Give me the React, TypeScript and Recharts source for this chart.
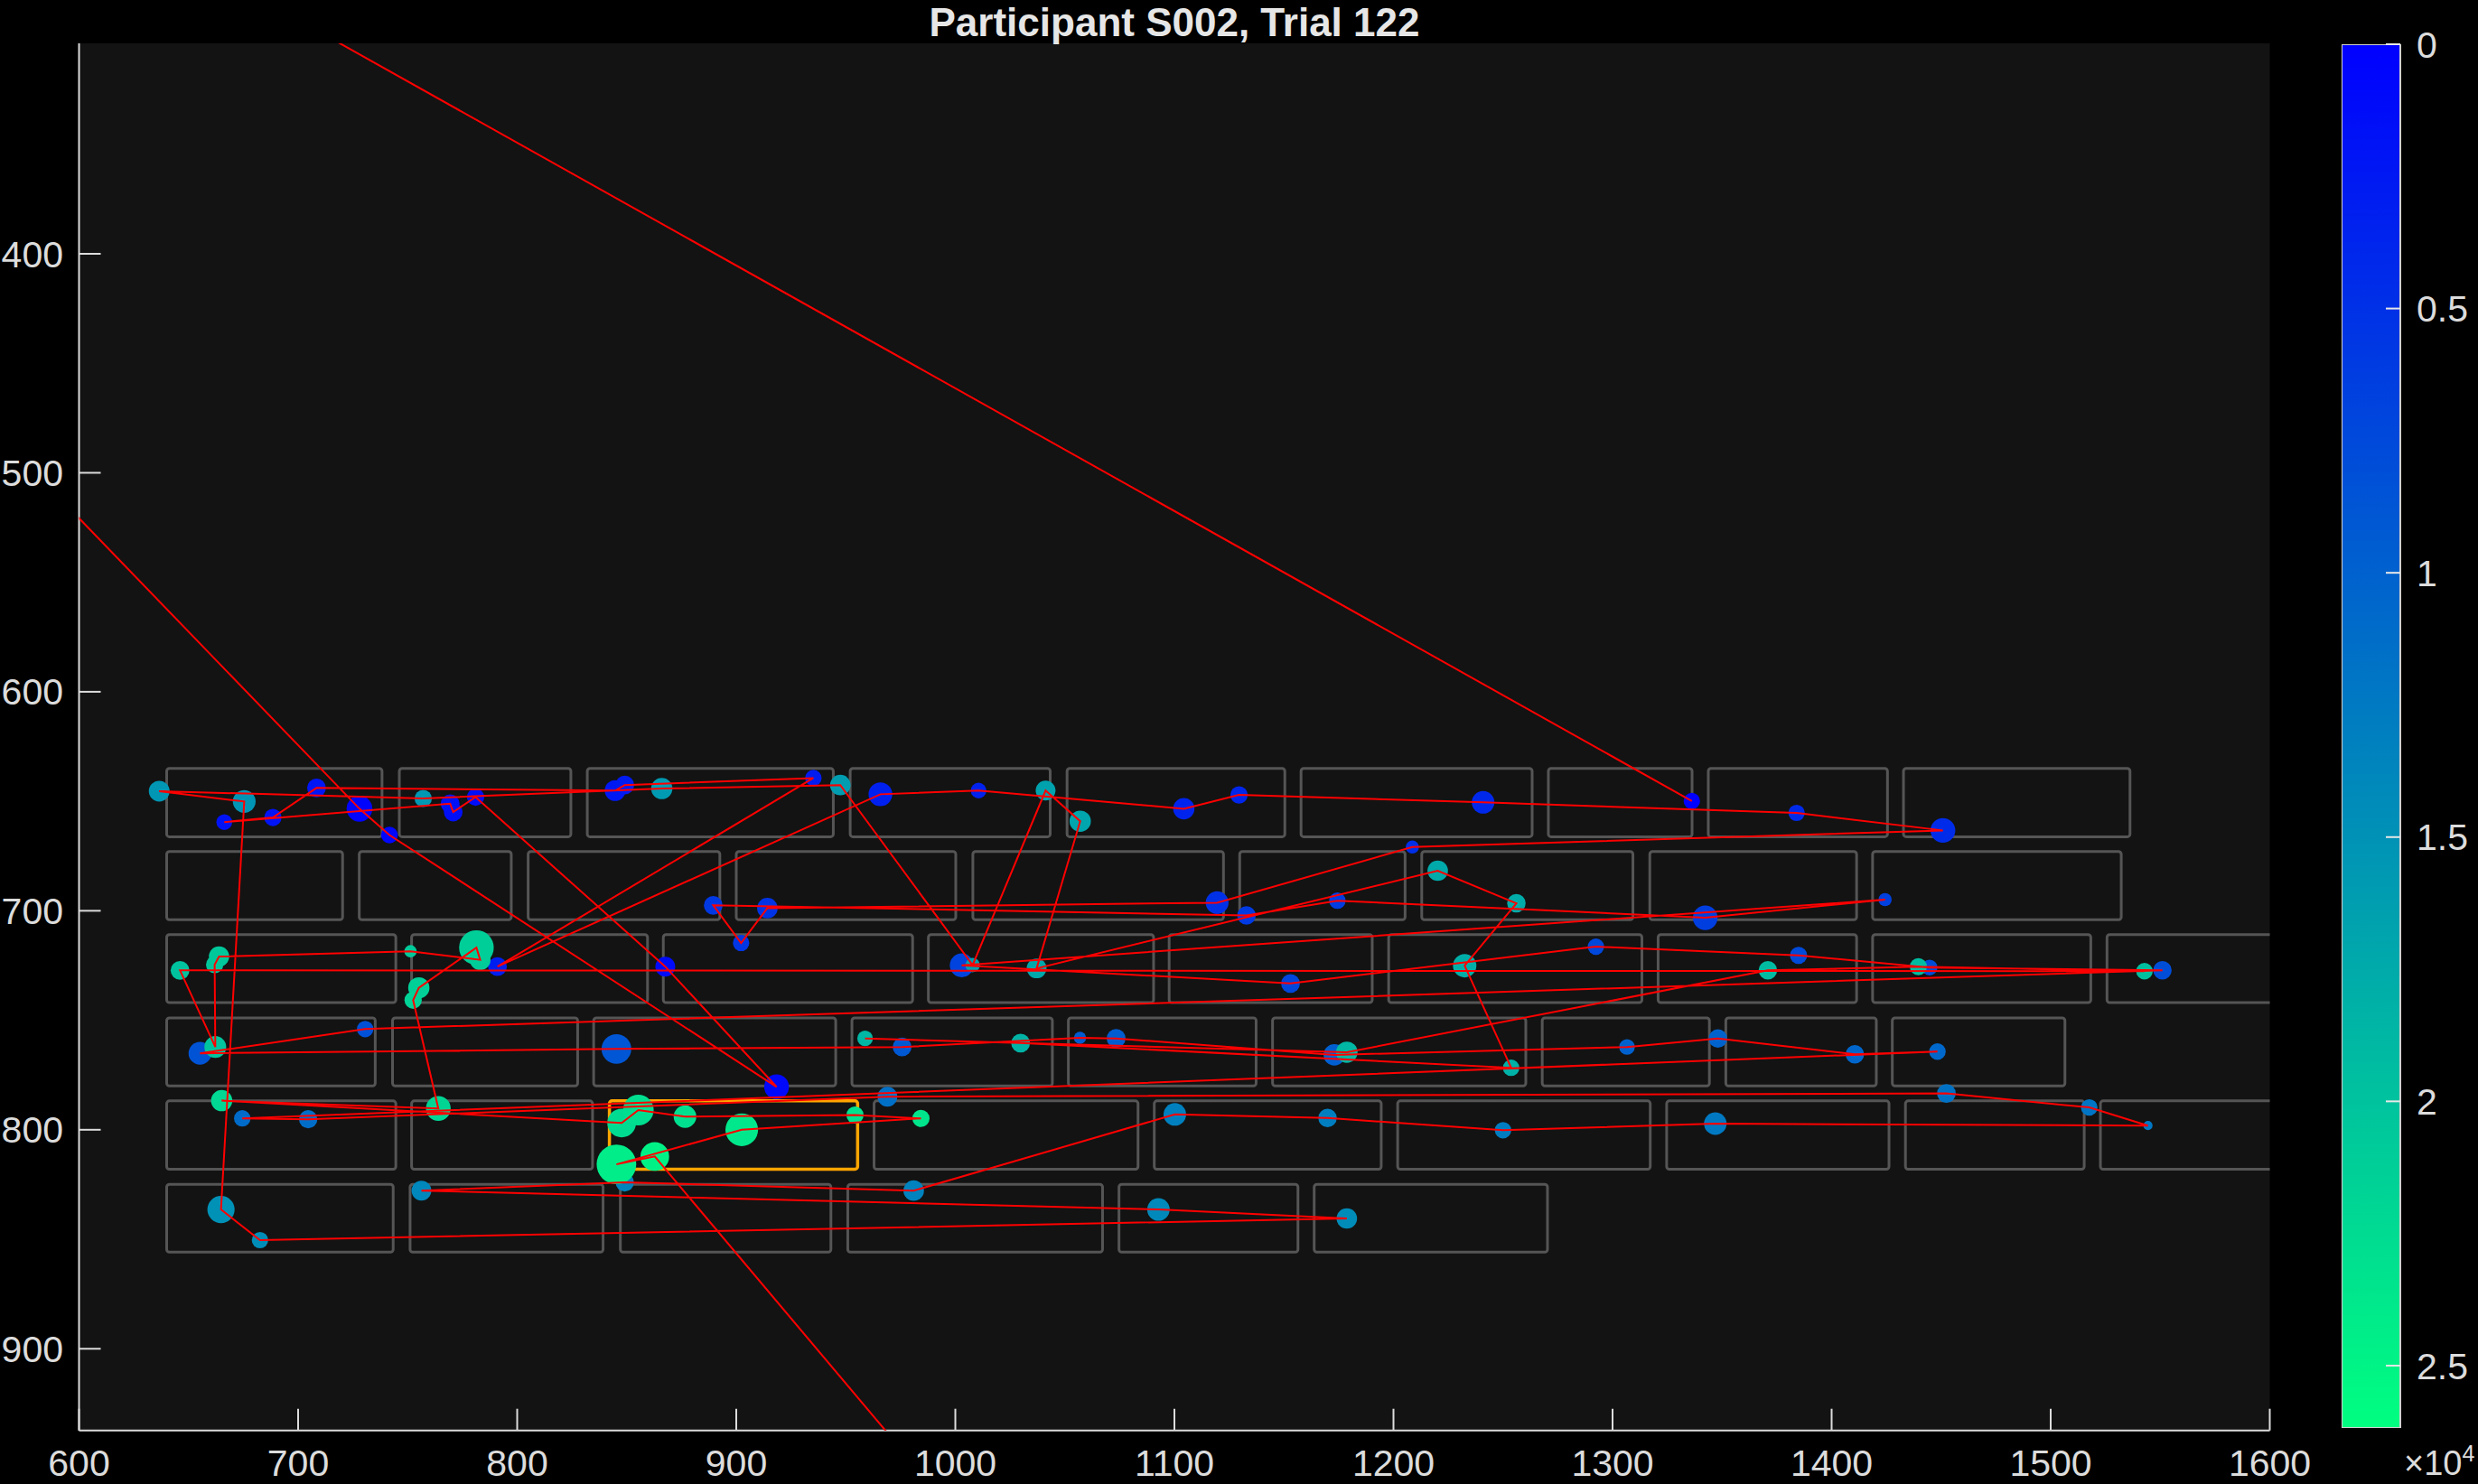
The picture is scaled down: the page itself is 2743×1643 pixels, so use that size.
import React from 'react';
import {
  ScatterChart,
  Scatter,
  XAxis,
  YAxis,
  ZAxis,
  CartesianGrid,
  ReferenceArea,
  Cell,
  BarChart,
  Bar,
} from 'recharts';

// ---------- text / axes ----------
const TITLE = 'Participant S002, Trial 122';
const X_DOMAIN = [600, 1600];
const Y_DOMAIN = [303.9, 937.3];
const X_TICKS = [600, 700, 800, 900, 1000, 1100, 1200, 1300, 1400, 1500, 1600];
const Y_TICKS = [400, 500, 600, 700, 800, 900];
const T_MAX = 26180;
const CBAR_TICKS = [0, 5000, 10000, 15000, 20000, 25000];
const CBAR_EXP = '4';

// ---------- fixations, in temporal order ----------
const fixX = [
  1336.2, 4, 728.0, 741.7, 918.4, 867.6, 781.0, 770.8, 769.4, 666.3,
  688.5, 708.4, 844.7, 849.1, 935.2, 791.0, 965.8, 1010.6, 1104.3, 1129.5,
  1240.9, 1384.0, 1450.8, 1208.6, 1119.5, 914.2, 902.2, 889.5, 1132.9, 1174.4,
  1342.3, 1424.4, 1002.9, 1153.0, 1292.4, 1384.9, 1444.7, 1551.0, 730.6, 655.2,
  845.3, 975.7, 1056.9, 1073.4, 1173.0, 1306.6, 1348.1, 1410.6, 1448.3, 674.5,
  704.6, 969.0, 1452.4, 1517.6, 1544.4, 1346.9, 1250.0, 1169.9, 1100.2, 981.0,
  849.1, 756.3, 1092.7, 1178.7, 682.6, 664.8, 675.4, 636.6, 757.1, 866.0,
  947.5, 1007.9, 1041.2, 1057.0, 1037.1, 1220.2, 1256.1, 1232.5, 1253.7, 1029.8,
  958.8, 1178.7, 1370.9, 1439.6, 1542.8, 646.1, 662.2, 661.9, 663.9, 751.3,
  783.1, 781.4, 755.1, 752.5, 764.0, 665.1, 847.7, 855.3, 876.6, 954.2,
  984.3, 902.5, 845.3, 862.8, 1020,
];
const fixY = [
  649.9, -97, 653.4, 665.4, 780.4, 725.5, 648.1, 654.9, 651.1, 659.5,
  657.4, 643.9, 645.1, 642.6, 639.4, 725.5, 646.8, 645.1, 653.4, 647.1,
  650.5, 655.3, 663.3, 670.9, 696.3, 698.8, 714.7, 697.5, 702.1, 695.4,
  703.2, 694.9, 724.9, 733.2, 716.4, 720.4, 725.9, 727.2, 754.0, 765.1,
  763.1, 762.2, 758.0, 758.3, 765.8, 762.2, 758.3, 765.5, 764.3, 794.8,
  795.2, 784.9, 783.4, 789.8, 798.1, 797.2, 800.2, 794.6, 793.0, 827.8,
  824.0, 827.8, 836.4, 840.5, 850.4, 836.4, 650.1, 645.4, 648.7, 644.2,
  642.6, 724.8, 645.1, 659.1, 726.3, 681.7, 696.6, 725.1, 771.7, 760.4,
  758.3, 764.6, 727.2, 725.5, 727.6, 727.2, 762.2, 724.6, 720.9, 718.5,
  722.4, 716.8, 735.2, 740.8, 790.3, 786.7, 796.9, 791.0, 794.0, 793.3,
  794.8, 800.0, 815.8, 812.2, 999,
];
const fixT = [
  0, 220, 450, 700, 900, 1100, 1300, 1500, 1700, 1900,
  2100, 2300, 2500, 2700, 2900, 3100, 3300, 3500, 3700, 3900,
  4100, 4300, 4550, 4800, 5000, 5250, 5500, 5700, 5950, 6150,
  6400, 6600, 6850, 7100, 7300, 7550, 7800, 8000, 8300, 8550,
  8800, 9050, 9300, 9500, 9750, 10000, 10200, 10450, 10700, 11000,
  11250, 11500, 11750, 12000, 12200, 12450, 12700, 12900, 13150, 13400,
  13600, 13850, 14100, 14350, 14600, 14850, 15150, 15400, 15650, 15900,
  16150, 16400, 16650, 16900, 17150, 17400, 17650, 17900, 18150, 18400,
  18650, 18900, 19150, 19400, 19650, 19900, 20100, 20300, 20500, 20700,
  20900, 21150, 21400, 21650, 21900, 22150, 22450, 22750, 23050, 23300,
  23550, 23850, 24300, 24800, 26180,
];
const fixDur = [
  124, 180, 304, 130, 281, 180, 138, 162, 162, 115,
  138, 162, 198, 162, 124, 162, 259, 112, 208, 138,
  234, 124, 281, 80, 238, 193, 124, 162, 157, 124,
  279, 80, 259, 162, 124, 136, 115, 157, 124, 238,
  405, 162, 69, 162, 210, 112, 157, 157, 126, 124,
  154, 180, 162, 126, 39, 234, 124, 157, 234, 193,
  154, 180, 234, 193, 124, 340, 238, 198, 138, 208,
  193, 95, 180, 208, 180, 193, 157, 251, 124, 162,
  112, 210, 157, 135, 126, 162, 218, 138, 189, 70,
  198, 551, 208, 138, 281, 208, 378, 432, 234, 136,
  136, 490, 720, 378, 180,
];

// ---------- word boxes ----------
const rowTop = [635.0, 672.9, 710.9, 748.9, 786.8, 824.9];
const rowBottom = [666.2, 704.1, 741.9, 780.0, 818.0, 855.9];
const rowBoxes = [
  [[640, 738.3], [746.2, 824.5], [832, 944.3], [952, 1043.3], [1051, 1150.4], [1157.8, 1263.3], [1270.7, 1336.3], [1343.7, 1425.5], [1432.8, 1536.2]],
  [[640, 720.3], [727.9, 797.3], [805, 892.5], [900, 1000.2], [1008, 1122.4], [1129.8, 1205.3], [1212.9, 1309.3], [1317, 1411.4], [1418.7, 1532.2]],
  [[640, 744.6], [751.8, 859.5], [866.7, 980.5], [987.7, 1090.5], [1097.6, 1190.3], [1197.8, 1313.4], [1320.8, 1411.4], [1418.7, 1518.3], [1525.7, 1620]],
  [[640, 735.2], [743.1, 827.6], [834.9, 945.4], [952.8, 1044.3], [1051.6, 1137.3], [1144.8, 1260.4], [1267.9, 1344.2], [1351.7, 1420.4], [1427.7, 1506.5]],
  [[640, 744.6], [751.8, 834.4], [842.1, 955.4], [962.9, 1083.4], [1090.8, 1194.4], [1201.9, 1317.2], [1324.7, 1426.2], [1433.7, 1515.3], [1522.7, 1620]],
  [[640, 743.4], [751.1, 839.2], [847.1, 943.2], [950.9, 1067.2], [1074.7, 1156.4], [1163.8, 1270.3]],
];
const targetRow = 4;
const targetIndex = 2;

// ---------- helpers ----------
const FONT = '"Liberation Sans", Arial, Helvetica, sans-serif';
const TEXT = '#dcdcdc';

const winter = (t: number) => {
  const f = Math.min(1, Math.max(0, t / T_MAX));
  return `rgb(0,${Math.round(255 * f)},${Math.round(255 * (1 - 0.5 * f))})`;
};

const fixations = fixX.map((x, i) => ({ x, y: fixY[i], t: fixT[i], dur: fixDur[i] }));

const boxes: { x1: number; x2: number; y1: number; y2: number; target: boolean; key: string }[] = [];
rowBoxes.forEach((row, r) =>
  row.forEach(([a, b], j) =>
    boxes.push({
      x1: a,
      x2: b,
      y1: rowTop[r],
      y2: rowBottom[r],
      target: r === targetRow && j === targetIndex,
      key: `b-${r}-${j}`,
    })
  )
);

const cbarData = [{ name: 'time', v: T_MAX }];

const NoShape = () => <g />;

export default function App() {
  return (
    <div
      style={{
        position: 'absolute',
        left: 0,
        top: 0,
        width: 2743,
        height: 1643,
        background: '#000000',
        overflow: 'hidden',
      }}
    >
      <div style={{ position: 'absolute', left: 0, top: 0 }}>
        <ScatterChart width={2743} height={1643} margin={{ top: 48, right: 230.5, bottom: 0, left: 0 }}>
          <CartesianGrid fill="#131313" horizontal={false} vertical={false} stroke="none" />
          {boxes.map((b) => (
            <ReferenceArea
              key={b.key}
              x1={b.x1}
              x2={b.x2}
              y1={b.y1}
              y2={b.y2}
              fill="none"
              fillOpacity={0}
              stroke={b.target ? '#FFA500' : '#555555'}
              strokeWidth={b.target ? 3.5 : 3}
              strokeOpacity={1}
              radius={3}
              ifOverflow="hidden"
            />
          ))}
          <Scatter data={fixations} isAnimationActive={false}>
            {fixations.map((d, i) => (
              <Cell key={`c-${i}`} fill={winter(d.t)} />
            ))}
          </Scatter>
          <Scatter
            data={fixations}
            isAnimationActive={false}
            line={{ stroke: '#ff0000', strokeWidth: 2 }}
            lineType="joint"
            shape={NoShape}
          />
          <XAxis
            type="number"
            dataKey="x"
            domain={X_DOMAIN}
            ticks={X_TICKS}
            allowDataOverflow
            interval={0}
            height={59.3}
            tickSize={-24}
            tickMargin={45}
            axisLine={{ stroke: TEXT, strokeWidth: 2 }}
            tickLine={{ stroke: TEXT, strokeWidth: 2 }}
            tick={{ fill: TEXT, fontSize: 41, fontFamily: FONT }}
          />
          <YAxis
            type="number"
            dataKey="y"
            domain={Y_DOMAIN}
            ticks={Y_TICKS}
            reversed
            allowDataOverflow
            interval={0}
            width={87.5}
            tickSize={-24}
            tickMargin={41.5}
            axisLine={{ stroke: TEXT, strokeWidth: 2 }}
            tickLine={{ stroke: TEXT, strokeWidth: 2 }}
            tick={{ fill: TEXT, fontSize: 41, fontFamily: FONT }}
          />
          <ZAxis type="number" dataKey="dur" domain={[0, 1000]} range={[0, 2100]} />
        </ScatterChart>
      </div>

      <div style={{ position: 'absolute', left: 2592, top: 0 }}>
        <BarChart
          width={151}
          height={1643}
          data={cbarData}
          margin={{ top: 49, right: 0, bottom: 62, left: 0 }}
          barCategoryGap={0}
        >
          <defs>
            <linearGradient id="winterGrad" x1="0" y1="0" x2="0" y2="1">
              <stop offset="0%" stopColor={winter(0)} />
              <stop offset="100%" stopColor={winter(T_MAX)} />
            </linearGradient>
          </defs>
          <XAxis dataKey="name" hide />
          <Bar
            dataKey="v"
            fill="url(#winterGrad)"
            stroke="#d0d0d0"
            strokeWidth={2}
            isAnimationActive={false}
          />
          <YAxis
            orientation="right"
            type="number"
            domain={[0, T_MAX]}
            ticks={CBAR_TICKS}
            reversed
            allowDataOverflow
            interval={0}
            width={86}
            tickSize={-16}
            tickMargin={34}
            axisLine={false}
            tickLine={{ stroke: '#e8e8e8', strokeWidth: 2 }}
            tick={{ fill: TEXT, fontSize: 41, fontFamily: FONT }}
            tickFormatter={(v: number) => String(v / 10000)}
          />
        </BarChart>
      </div>

      <svg
        width={2743}
        height={1643}
        style={{ position: 'absolute', left: 0, top: 0, pointerEvents: 'none' }}
      >
        <text
          x={1300}
          y={40}
          textAnchor="middle"
          fontFamily={FONT}
          fontWeight="bold"
          fontSize={44}
          fill="#e6e6e6"
        >
          {TITLE}
        </text>
        <text x={2661} y={1633} fontFamily={FONT} fontSize={38} fill={TEXT}>
          ×10
          <tspan dy={-15} fontSize={25}>
            {CBAR_EXP}
          </tspan>
        </text>
      </svg>
    </div>
  );
}
